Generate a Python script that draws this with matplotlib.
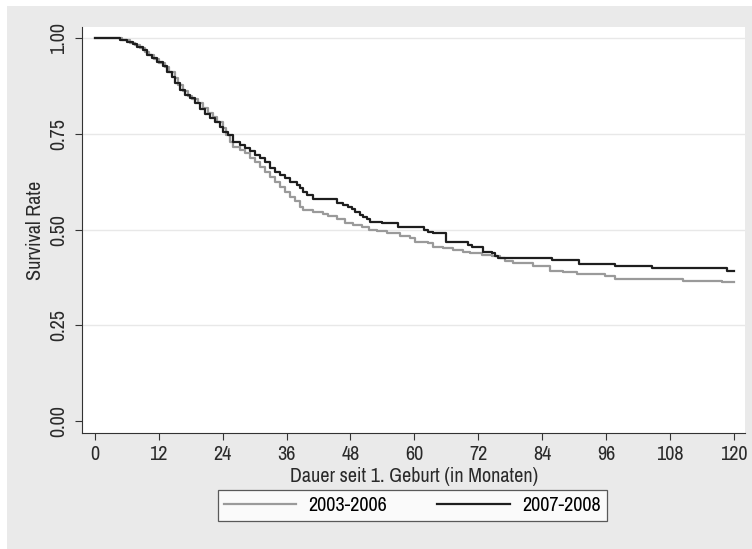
import numpy as np
import matplotlib.pyplot as plt
from matplotlib.patches import Rectangle

plt.rcParams['font.family'] = ['Archivo Narrow', 'Liberation Sans', 'DejaVu Sans']

# Kaplan-Meier steps (months, survival)
t_old = [0, 5.2, 6.6, 7.6, 8.5, 9.4, 10.2, 11.1, 12.1, 13.2, 14.0, 15.0, 15.6, 16.5,
         17.5, 18.3, 19.3, 20.3, 21.2, 22.2, 23.0, 24.0, 24.6, 25.4, 25.9, 27.2, 28.2,
         29.1, 30.0, 31.0, 31.9, 32.9, 33.8, 34.7, 35.7, 36.6, 37.6, 38.5, 39.1, 41.0,
         42.8, 43.8, 45.4, 46.9, 48.5, 50.1, 51.5, 53.0, 54.8, 57.3, 59.2, 60.1, 62.5,
         63.5, 65.4, 67.2, 69.1, 70.4, 72.7, 74.6, 76.0, 77.0, 78.5, 82.3, 85.4, 87.9,
         90.5, 93.5, 95.8, 97.7, 110.5, 117.7, 120]
s_old = [1.0, 0.995, 0.988, 0.982, 0.975, 0.965, 0.955, 0.946, 0.936, 0.925, 0.912,
         0.895, 0.878, 0.862, 0.850, 0.842, 0.830, 0.818, 0.805, 0.795, 0.782, 0.765,
         0.748, 0.728, 0.715, 0.708, 0.700, 0.687, 0.676, 0.663, 0.650, 0.637, 0.624,
         0.611, 0.598, 0.585, 0.575, 0.560, 0.551, 0.547, 0.542, 0.535, 0.527, 0.518,
         0.512, 0.506, 0.500, 0.497, 0.490, 0.483, 0.477, 0.468, 0.464, 0.455, 0.451,
         0.446, 0.442, 0.438, 0.433, 0.430, 0.425, 0.419, 0.413, 0.405, 0.393, 0.389,
         0.385, 0.383, 0.379, 0.372, 0.366, 0.363, 0.363]

t_new = [0, 4.7, 6.0, 7.1, 7.9, 9.0, 9.8, 10.7, 11.6, 12.8, 13.5, 14.5, 15.0, 16.0,
         16.9, 17.8, 18.8, 19.7, 20.7, 21.6, 22.5, 23.5, 24.0, 25.0, 25.9, 27.2, 28.2,
         29.1, 30.0, 31.0, 31.9, 32.9, 33.8, 34.7, 35.7, 36.6, 37.9, 38.5, 39.1, 39.8,
         41.0, 45.4, 46.6, 47.5, 48.3, 48.8, 49.8, 50.3, 51.1, 51.6, 53.9, 57.0, 61.8,
         62.6, 63.5, 66.0, 70.0, 70.8, 72.9, 74.6, 75.1, 75.7, 85.8, 90.9, 97.7, 104.6,
         118.7, 120]
s_new = [1.0, 0.995, 0.990, 0.984, 0.977, 0.969, 0.956, 0.948, 0.937, 0.928, 0.911,
         0.898, 0.882, 0.864, 0.851, 0.843, 0.830, 0.815, 0.803, 0.791, 0.781, 0.768,
         0.755, 0.746, 0.730, 0.721, 0.713, 0.706, 0.695, 0.687, 0.676, 0.661, 0.650,
         0.642, 0.634, 0.624, 0.616, 0.608, 0.598, 0.590, 0.579, 0.569, 0.564, 0.559,
         0.554, 0.545, 0.538, 0.533, 0.528, 0.520, 0.517, 0.507, 0.499, 0.494, 0.490,
         0.467, 0.459, 0.455, 0.442, 0.439, 0.431, 0.425, 0.421, 0.410, 0.405, 0.399,
         0.392, 0.392]

xticks = np.arange(0, 121, 12)
yticks = [0, 0.25, 0.5, 0.75, 1.0]
fs = 14.5

fig = plt.figure(figsize=(7.52, 5.49), dpi=100, facecolor='white')
fig.patches.append(Rectangle((7 / 752, 0), 1, 1 - 6 / 549, transform=fig.transFigure,
                             facecolor='#eaeaea', edgecolor='none', zorder=-10))

ax = fig.add_axes([0.109, 0.2113, 0.882, 0.7395])
ax.set_facecolor('white')

l1, = ax.step(t_old, s_old, where='post', color='#9a9a9a', lw=1.6)
l2, = ax.step(t_new, s_new, where='post', color='#1e1e1e', lw=1.6)

ax.set_xlim(-2.4, 122.1)
ax.set_ylim(-0.031, 1.029)
ax.set_xticks(xticks)
ax.set_yticks(yticks)
ax.set_yticklabels(['%.2f' % v for v in yticks], rotation=90, va='center')
for v in yticks[1:]:
    ax.axhline(v, color='#e8e8e8', lw=1, zorder=0)

for sp in ['top', 'right']:
    ax.spines[sp].set_visible(False)
for sp in ['left', 'bottom']:
    ax.spines[sp].set_color('#333333')
ax.tick_params(direction='out', length=5, color='#333333', labelsize=fs, labelcolor='#2a2a2a')
ax.tick_params(axis='x', pad=4)
ax.tick_params(axis='y', pad=5)

ax.set_xlabel('Dauer seit 1. Geburt (in Monaten)', fontsize=fs, color='#2a2a2a', labelpad=2)
ax.set_ylabel('Survival Rate', fontsize=fs, color='#2a2a2a', labelpad=3)

leg = fig.legend([l1, l2], ['2003-2006', '2007-2008'], ncol=2, loc='center',
                 bbox_to_anchor=(0.548, 0.08), fontsize=fs, frameon=True,
                 fancybox=False, edgecolor='#333333', handlelength=3.6,
                 columnspacing=2.5, borderpad=0.3, handletextpad=0.6)
leg.get_frame().set_linewidth(0.9)

plt.savefig('out.png', dpi=100)
